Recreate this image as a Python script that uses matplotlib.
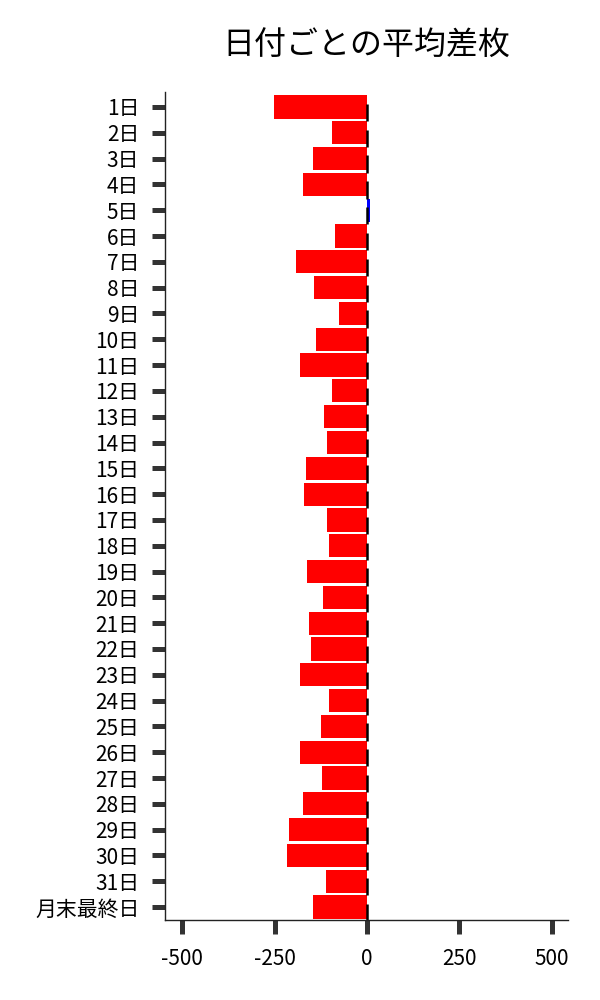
import matplotlib
matplotlib.use("Agg")
import matplotlib.pyplot as plt
import numpy as np

plt.rcParams['font.family'] = ['Noto Sans CJK JP', 'DejaVu Sans']

# data
days = [f"{i}日" for i in range(1, 32)] + ["月末最終日"]
avg_diff = [-252, -95, -146, -173, 8, -87, -192, -144, -76, -138,
            -182, -95, -117, -108, -165, -171, -108, -103, -163, -119,
            -157, -152, -182, -103, -125, -182, -122, -173, -211, -217,
            -111, -146]
x_ticks = [-500, -250, 0, 250, 500]

colors = ['blue' if v > 0 else 'red' for v in avg_diff]
ypos = np.arange(len(days))

fig = plt.figure(figsize=(6, 10), dpi=100)
ax = fig.add_axes([0.275, 0.08, 0.672, 0.828])

ax.barh(ypos, avg_diff, height=0.9, color=colors)
# small black marks at zero on each row
ax.vlines(np.zeros(len(days)), ypos - 0.12, ypos + 0.55, color='black', lw=1.8)

ax.set_ylim(len(days) - 0.5, -0.58)
ax.set_xlim(-547, 545)
ax.set_xticks(x_ticks)
ax.set_xticklabels([str(t) for t in x_ticks])
ax.set_yticks(ypos)
ax.set_yticklabels(days)

for s in ['top', 'right']:
    ax.spines[s].set_visible(False)
for s in ['left', 'bottom']:
    ax.spines[s].set_linewidth(1.0)
    ax.spines[s].set_color('#222222')

ax.tick_params(axis='both', length=10, width=3.6, color='#333333', labelsize=15, pad=10)
ax.tick_params(axis='y', length=9.5, pad=9)

fig.suptitle("日付ごとの平均差枚", fontsize=23, x=0.61, y=0.97)

fig.savefig("out.png", dpi=100)
